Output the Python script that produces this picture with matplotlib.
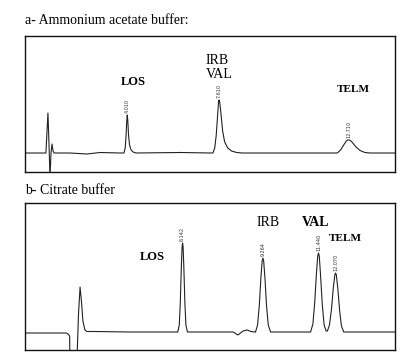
import matplotlib.pyplot as plt

plt.rcParams['font.family'] = 'Liberation Serif'

# Trace a - ammonium acetate buffer (time in min, signal in arbitrary units)

time_a = [0.00, 0.82, 0.86, 0.90, 0.94, 0.98, 1.02, 1.06, 1.10, 1.14,
          1.76, 2.43, 2.94, 3.73,
          3.88, 3.93, 3.96, 3.99, 4.01, 4.03, 4.06, 4.10, 4.16, 4.24, 4.35,
          6.08, 7.33,
          7.37, 7.44, 7.50, 7.56, 7.59, 7.61, 7.64, 7.69, 7.75, 7.83, 7.95, 8.10, 8.30, 8.51,
          10.78, 12.24,
          12.27, 12.39, 12.51, 12.60, 12.66, 12.71, 12.76, 12.84, 12.98, 13.14, 13.33, 13.53,
          14.51]
signal_a = [0, 0, 20, 40, 10, -25, 0, 9, 2, 0,
            0, -1, 0.5, 0,
            0, 5, 16, 32, 38, 33, 18, 8, 3, 1, 0,
            0.5, 0,
            0, 5, 18, 40, 51, 53, 50, 38, 22, 11, 5, 2, 0.5, 0,
            0, 0,
            0.5, 3.5, 8.5, 12, 13, 13, 12.5, 10.5, 6, 2.5, 0.5, 0,
            0]

# Trace b - citrate buffer

time_b = [0.00, 1.61, 1.69, 1.75, 1.76, 2.04, 2.10, 2.16, 2.22, 2.27, 2.35, 2.43, 2.75,
          4.12, 5.96,
          5.99, 6.05, 6.09, 6.13, 6.16, 6.18, 6.20, 6.23, 6.27, 6.31, 6.37, 6.47,
          8.16, 8.35, 8.55, 8.71, 8.86, 9.02,
          9.04, 9.12, 9.19, 9.25, 9.30, 9.33, 9.36, 9.41, 9.47, 9.54, 9.63, 9.73,
          11.10,
          11.20, 11.29, 11.36, 11.43, 11.48, 11.51, 11.54, 11.59, 11.66, 11.73, 11.81,
          11.86, 11.94, 12.02, 12.09, 12.15, 12.18, 12.21, 12.27, 12.34, 12.41, 12.50, 12.63,
          14.51]
signal_b = [0, 0, -1, -3, -25, -25, 20, 46, 30, 12, 3, 1.5, 1.5,
            1, 1,
            1, 8, 30, 65, 86, 90, 86, 65, 30, 8, 1, 1,
            1, -2, 2, 3, 1.5, 1,
            1, 8, 28, 55, 72, 75, 72, 55, 28, 8, 1, 1,
            1,
            1, 9, 30, 60, 77, 80, 77, 58, 28, 8, 2,
            2, 8, 24, 45, 58, 60, 58, 44, 22, 7, 1, 1,
            1]

# Peak retention times printed above peaks

rt_a = ['4.010', '7.610', '12.710']
rt_a_pos = [(4.01, 38), (7.61, 53), (12.71, 13)]
rt_b = ['6.142', '9.264', '11.440', '12.070']
rt_b_pos = [(6.18, 90), (9.33, 75), (11.51, 80), (12.18, 60)]

fig = plt.figure(figsize=(4.11, 3.58), dpi=100)

ax1 = fig.add_axes([25/411, 1 - 172/358, 370/411, 136/358])
ax2 = fig.add_axes([25/411, 1 - 350/358, 370/411, 147/358])

for ax in [ax1, ax2]:
    ax.set_xticks([])
    ax.set_yticks([])
    ax.set_xlim(0, 14.51)
    for sp in ax.spines.values():
        sp.set_linewidth(1.0)
        sp.set_color('#111111')

ax1.plot(time_a, signal_a, color='#222222', lw=0.8)
ax1.set_ylim(-19, 117)
ax2.plot(time_b, signal_b, color='#222222', lw=0.8)
ax2.set_ylim(-17, 130)

for lab, (t, s) in zip(rt_a, rt_a_pos):
    ax1.text(t, s + 2, lab, rotation=90, fontsize=3.5, ha='center', va='bottom',
             family='DejaVu Sans', color='#333333')
for lab, (t, s) in zip(rt_b, rt_b_pos):
    ax2.text(t, s + 2, lab, rotation=90, fontsize=3.5, ha='center', va='bottom',
             family='DejaVu Sans', color='#333333')

# Compound names

ax1.text(4.24, 71, 'LOS', fontsize=9, weight='bold', ha='center', va='center')
ax1.text(7.53, 93, 'IRB', fontsize=10, ha='center', va='center')
ax1.text(7.60, 78, 'VAL', fontsize=10, ha='center', va='center')
ax1.text(12.86, 63, 'TELM', fontsize=8, weight='bold', ha='center', va='center')

ax2.text(4.98, 76, 'LOS', fontsize=9, weight='bold', ha='center', va='center')
ax2.text(9.53, 111, 'IRB', fontsize=10, ha='center', va='center')
ax2.text(11.41, 111, 'VAL', fontsize=10, weight='bold', ha='center', va='center')
ax2.text(12.55, 95, 'TELM', fontsize=8, weight='bold', ha='center', va='center')

fig.text(25/411, 1 - 20/358, 'a- Ammonium acetate buffer:', fontsize=10, va='center')
fig.text(25/411, 1 - 190/358, 'b- Citrate buffer', fontsize=10, va='center')

fig.savefig('out.png', dpi=100)
